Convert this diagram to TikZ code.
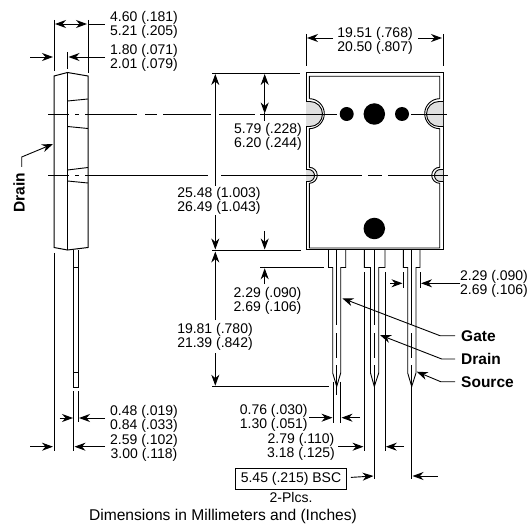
\documentclass[tikz,border=0pt]{standalone}
\usepackage{fontspec}
\setmainfont{Liberation Sans}
\usetikzlibrary{arrows.meta}
\begin{document}
\begin{tikzpicture}[x=1pt,y=-1pt]
        % Define styles for shapes
        \tikzset{
            part/.style={line width=1pt},
            thin part/.style={line width=0.9pt},
            hole/.style={fill=black!12, line width=0.9pt},
            pin/.style={fill=black, draw=none, circle, inner sep=0pt},
            measure/.style={line width=0.9pt, -{Stealth[length=11pt,width=8pt,inset=3.5pt]}},
            both measure/.style={line width=0.9pt, {Stealth[length=11pt,width=8pt,inset=3.5pt]}-{Stealth[length=11pt,width=8pt,inset=3.5pt]}},
            dimtext/.style={inner sep=0pt, align=center, yshift=-0.7pt, font=\fontsize{14}{14}\selectfont},
            pinlabel/.style={inner sep=0pt, anchor=west, font=\fontsize{15.5}{16}\selectfont\bfseries}
        }
        \useasboundingbox (0,0) rectangle (528,524);
        % Draw side view
        \draw[part] (54,76) -- (67.5,72.5) -- (88,76) -- (88,247.5) -- (67.5,250) -- (54,247.5) -- cycle;
        \draw[part] (67.5,72.5) -- (67.5,250);
        \draw[thin part] (67.5,101) -- (88,99) (67.5,126.5) -- (88,128.5);
        \draw[thin part] (67.5,170) -- (88,167.5) (67.5,181) -- (88,183);
        % Side view lead
        \draw[thin part] (73.5,250) -- (73.5,387.3) -- (78,387.3) -- (78,250);
        \draw[thin part] (73.5,267) -- (78,267) (73.5,372) -- (78,372);
        % Side view extension lines
        \draw[thin part] (54,20) -- (54,71) (88,20) -- (88,73) (67.5,52) -- (67.5,69);
        \draw[thin part] (54,253) -- (54,451) (73.5,391) -- (73.5,451) (78,391) -- (78,422);
        % Center lines
        \draw[thin part] (48,114) -- (69,114) (75,114) -- (79,114) (85,114) -- (137,114) (145,114) -- (157,114);
        \draw[thin part] (163,114) -- (211,114) (219,114) -- (255,114) (260,114) -- (337,114) (411,114) -- (447,114);
        \draw[thin part] (48,175) -- (69,175) (75,175) -- (79,175) (85,175) -- (208,175);
        \draw[thin part] (221,175) -- (362,175) (368,175) -- (382,175) (388,175) -- (448,175);
        % Draw package body with holes
        \draw[part] (306,73) rectangle (443,250);
        \draw[hole] (306,101.5) -- (310,101.5) arc[start angle=90,end angle=-90,radius=12.5pt] -- (306,126.5);
        \draw[hole] (443,101.5) -- (439,101.5) arc[start angle=90,end angle=270,radius=12.5pt] -- (443,126.5);
        \draw[hole] (306,169.5) -- (308.5,169.5) arc[start angle=90,end angle=-90,radius=6pt] -- (306,181.5);
        \draw[hole] (443,169.5) -- (440.5,169.5) arc[start angle=90,end angle=270,radius=6pt] -- (443,181.5);
        % Center lines over the holes
        \draw[thin part] (306,114) -- (337,114) (411,114) -- (447,114) (306,175) -- (320,175) (430,175) -- (448,175);
        \draw[thin part] (309.3,98.7) -- (309.3,76.3) -- (439.7,76.3) -- (439.7,98.7)
            arc[start angle=90,end angle=270,radius=15pt] -- (439.7,167.3)
            arc[start angle=90,end angle=270,radius=8pt] -- (439.7,248) -- (309.3,248) -- (309.3,183.3)
            arc[start angle=-90,end angle=90,radius=8pt] -- (309.3,128.7)
            arc[start angle=-90,end angle=90,radius=15pt];
        \node[pin, minimum size=14pt] (pinLeft) at (346.7,114) {};
        \node[pin, minimum size=21.5pt] (pinMid) at (374.3,114) {};
        \node[pin, minimum size=14pt] (pinRight) at (402,114) {};
        \node[pin, minimum size=21.5pt] (pinLow) at (374.3,228.5) {};
        % Draw leads
        \draw[thin part] (328.5,250) -- (328.5,267.5) -- (332.7,267.5) -- (332.7,373) -- (336.7,386.5) -- (340.7,373) -- (340.7,267.5) -- (345.7,267.5) -- (345.7,250);
        \draw[thin part] (364.3,250) -- (364.3,267.5) -- (370.5,267.5) -- (370.5,373) -- (374.3,386.5) -- (378.7,373) -- (378.7,267.5) -- (385,267.5) -- (385,250);
        \draw[thin part] (403.3,250) -- (403.3,267.5) -- (407.7,267.5) -- (407.7,373) -- (411.7,386.5) -- (416,373) -- (416,267.5) -- (420,267.5) -- (420,250);
        % Lead center lines
        \draw[thin part] (336.7,250) -- (336.7,325) (336.7,333) -- (336.7,358) (336.7,365) -- (336.7,395);
        \draw[thin part] (374.3,250) -- (374.3,325) (374.3,333) -- (374.3,358) (374.3,365) -- (374.3,479);
        \draw[thin part] (411.7,250) -- (411.7,325) (411.7,333) -- (411.7,358) (411.7,365) -- (411.7,479);
        % Lead extension lines
        \draw[thin part] (333.3,381.5) -- (333.3,422.7) (340.7,381.5) -- (340.7,422.7);
        \draw[thin part] (364.3,272) -- (364.3,451) (385,272) -- (385,451);
        \draw[thin part] (403.3,272) -- (403.3,288) (420,272) -- (420,288);
        % Body extension lines
        \draw[thin part] (306,34) -- (306,66) (443,34) -- (443,66);
        \draw[thin part] (212,73) -- (300,73) (212,250.5) -- (301,250.5);
        \draw[thin part] (260,267.3) -- (324,267.3) (212,386.7) -- (329,386.7);
        % Draw dimension texts
        \node[dimtext] (sideWidth) at (144,24) {4.60 (.181)\\5.21 (.205)};
        \node[dimtext] (flangeWidth) at (144,57.5) {1.80 (.071)\\2.01 (.079)};
        \node[dimtext] (bodyWidth) at (375,40.5) {19.51 (.768)\\20.50 (.807)};
        \node[dimtext] (holeDrop) at (268,136) {5.79 (.228)\\6.20 (.244)};
        \node[dimtext] (bodyHeight) at (219,200) {25.48 (1.003)\\26.49 (1.043)};
        \node[dimtext] (shoulderDrop) at (267.5,300) {2.29 (.090)\\2.69 (.106)};
        \node[dimtext] (leadLength) at (215,336.5) {19.81 (.780)\\21.39 (.842)};
        \node[dimtext] (shoulderWidth) at (494,283) {2.29 (.090)\\2.69 (.106)};
        \node[dimtext] (leadWidth) at (273.7,417) {0.76 (.030)\\1.30 (.051)};
        \node[dimtext] (wideWidth) at (301,446.5) {2.79 (.110)\\3.18 (.125)};
        \node[dimtext] (leadThick) at (144,417.7) {0.48 (.019)\\0.84 (.033)};
        \node[dimtext] (sideOffset) at (144,446.7) {2.59 (.102)\\3.00 (.118)};
        \node[dimtext, draw, line width=0.8pt, minimum width=111pt, minimum height=21pt] (pitch) at (291,477.7) {5.45 (.215) BSC};
        \node[dimtext] (places) at (291,496.3) {2-Plcs.};
        \node[dimtext, font=\fontsize{15.6}{16}\selectfont] (caption) at (223,515.5) {Dimensions in Millimeters and (Inches)};
        % Draw pin labels
        \node[pinlabel] (gate) at (461,335.7) {Gate};
        \node[pinlabel] (drain) at (461,359) {Drain};
        \node[pinlabel] (source) at (461,382) {Source};
        \node[pinlabel, anchor=center, rotate=90] (drainSide) at (19,193) {Drain};
        % Draw arrows
        \draw[both measure] (55,24) -- (87,24);
        \draw[thin part] (88,24) -- (105,24);
        \draw[measure] (30,57) -- (53,57);
        \draw[measure] (105,57) -- (68.5,57);
        \draw[measure] (333,38) -- (307,38);
        \draw[measure] (418,38) -- (442,38);
        \draw[both measure] (264.7,74) -- (264.7,113.5);
        \draw[thin part] (264.7,113.5) -- (264.7,121);
        \draw[measure] (264.7,231) -- (264.7,249.5);
        \draw[measure] (264.7,284) -- (264.7,268.3);
        \draw[measure] (215.3,186) -- (215.3,74);
        \draw[measure] (215.3,215) -- (215.3,249.5);
        \draw[measure] (215.3,320) -- (215.3,251.5);
        \draw[measure] (215.3,353) -- (215.3,385.7);
        \draw[measure] (59.5,418) -- (73,418);
        \draw[measure] (105,418) -- (79,418);
        \draw[measure] (30,446.7) -- (53,446.7);
        \draw[measure] (105,446.7) -- (74.5,446.7);
        \draw[measure] (390,283.3) -- (402.5,283.3);
        \draw[measure] (460,283.3) -- (421,283.3);
        \draw[measure] (309.3,417.7) -- (332.5,417.7);
        \draw[measure] (360,417.7) -- (341.5,417.7);
        \draw[measure] (338.3,446.7) -- (363.5,446.7);
        \draw[measure] (404,446.7) -- (385.8,446.7);
        \draw[measure] (pitch.east) ++(4,-1) -- (373.5,476);
        \draw[measure] (437.7,476) -- (412.5,476);
        % Pin label leaders
        \coordinate (gateTip) at (342.3,298.3);
        \coordinate (drainTip) at (380,335);
        \coordinate (sourceTip) at (416.7,371.7);
        \coordinate (drainSideTip) at (53,144);
        \draw[measure] (gate.west) ++(-6,0) -- ++(-15,0) -- (gateTip);
        \draw[measure] (drain.west) ++(-6,0) -- ++(-13.3,0) -- (drainTip);
        \draw[measure] (source.west) ++(-6,-0.3) -- ++(-14.3,0) -- (sourceTip);
        \draw[measure] (drainSide.east) ++(2.7,-6) -- ++(0,-10) -- (drainSideTip);
    \end{tikzpicture}
\end{document}
